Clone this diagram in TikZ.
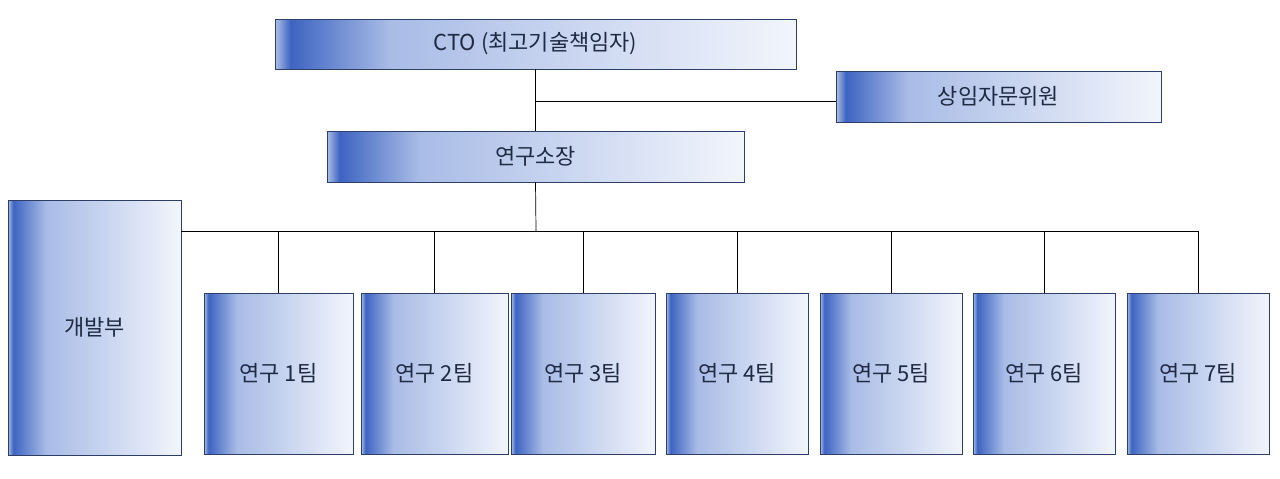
\documentclass[tikz,border=0pt]{standalone}
\usepackage{fontspec}
\setmainfont{Noto Sans CJK KR}
\usetikzlibrary{positioning}
\definecolor{boxline}{HTML}{2E3F66}
\definecolor{boxtext}{HTML}{1F2A44}
\definecolor{shA}{HTML}{AFC0E6}
\definecolor{shB}{HTML}{3D64C2}
\definecolor{shC}{HTML}{A9BCE6}
\definecolor{shD}{HTML}{F2F5FC}
\pgfdeclarehorizontalshading{boxshade}{100bp}{color(0bp)=(shA); color(25bp)=(shA); color(26.5bp)=(shB); color(36bp)=(shC); color(75bp)=(shD); color(100bp)=(shD)}
\tikzset{
  orgbox/.style={draw=boxline, shading=boxshade, text=boxtext, inner sep=0pt,
    font=\fontsize{12.5}{15}\selectfont},
}
\begin{document}
\begin{tikzpicture}[x=0.02cm, y=-0.02cm]
  \useasboundingbox (0,0) rectangle (1280,479);
  \node[orgbox, minimum width=10.42cm, minimum height=1cm] (cto) at (535.5,44) {CTO (최고기술책임자)};
  \node[orgbox, minimum width=6.5cm, minimum height=1.02cm] (adv) at (998.5,96.5) {상임자문위원};
  \node[orgbox, minimum width=8.34cm, minimum height=1.02cm] (lab) at (535.5,156.5) {연구소장};
  \node[orgbox, minimum width=3.46cm, minimum height=5.1cm] (dev) at (94.5,327.5) {개발부};
  \node[orgbox, minimum width=2.98cm, minimum height=3.22cm] (t1) at (278.5,373.5) {연구 1팀};
  \node[orgbox, minimum width=2.94cm, minimum height=3.22cm] (t2) at (434.5,373.5) {연구 2팀};
  \node[orgbox, minimum width=2.88cm, minimum height=3.22cm] (t3) at (583,373.5) {연구 3팀};
  \node[orgbox, minimum width=2.84cm, minimum height=3.22cm] (t4) at (737,373.5) {연구 4팀};
  \node[orgbox, minimum width=2.84cm, minimum height=3.22cm] (t5) at (891,373.5) {연구 5팀};
  \node[orgbox, minimum width=2.84cm, minimum height=3.22cm] (t6) at (1044,373.5) {연구 6팀};
  \node[orgbox, minimum width=2.84cm, minimum height=3.22cm] (t7) at (1198,373.5) {연구 7팀};
  \coordinate (j1) at (536,101);
  \coordinate (bus) at (536,231);
  \draw (cto.south) -- (lab.north);
  \draw (j1) -- (j1 -| adv.west);
  \draw (lab.south) -- (bus);
  \draw (dev.east |- bus) -- (bus -| t7.north);
  \foreach \i in {1,...,7}
    \draw (t\i.north |- bus) -- (t\i.north);
\end{tikzpicture}
\end{document}
